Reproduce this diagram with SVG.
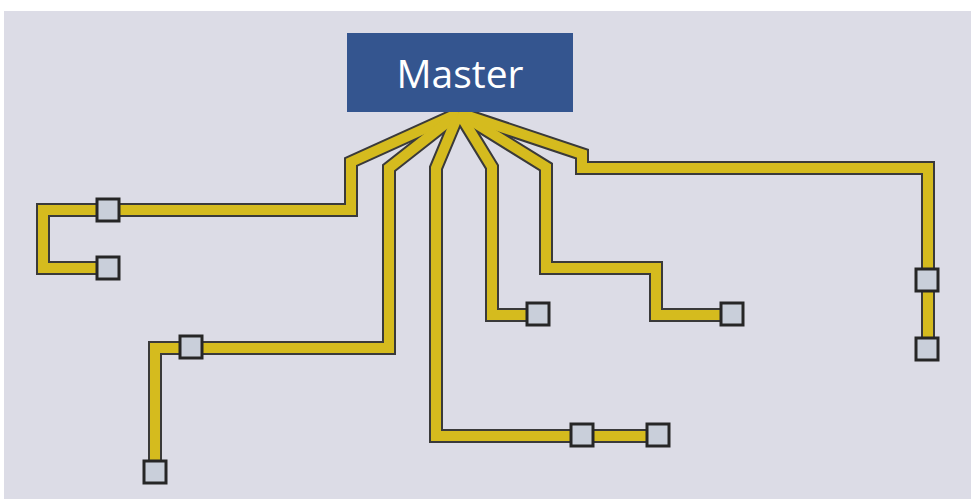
<svg xmlns="http://www.w3.org/2000/svg" width="971" height="499" viewBox="0 0 971 499">
<style>
.bg{fill:#dcdce6}
.out{fill:none;stroke:#3a3a3a;stroke-width:14;stroke-linejoin:miter;stroke-linecap:butt}
.in{fill:none;stroke:#d5bb1e;stroke-width:10;stroke-linejoin:miter;stroke-linecap:butt}
.sq{fill:#c9cfda;stroke:#262626;stroke-width:3}
.lbl{font-family:"Open Sans","Noto Sans",sans-serif;font-size:39px;fill:#ffffff;text-anchor:middle}
</style>
<defs>
<path id="t1" d="M459,113 L351,162 L351,210 L43,210 L43,268 L108,268"/>
<path id="t2" d="M459,113 L389,168 L389,348 L155,348 L155,471"/>
<path id="t3" d="M459,113 L436,168 L436,436 L658,436"/>
<path id="t4" d="M459,113 L492,167 L492,315 L538,315"/>
<path id="t5" d="M459,113 L546,167 L546,268 L656,268 L656,315 L732,315"/>
<path id="t6" d="M459,113 L582,154 L582,168 L928,168 L928,349"/>
</defs>
<rect x="0" y="0" width="971" height="499" fill="#ffffff"/>
<rect class="bg" x="4" y="11" width="967" height="488"/>
<g id="connectors">
<use href="#t1" class="out"/><use href="#t2" class="out"/><use href="#t3" class="out"/>
<use href="#t4" class="out"/><use href="#t5" class="out"/><use href="#t6" class="out"/>
<use href="#t1" class="in"/><use href="#t2" class="in"/><use href="#t3" class="in"/>
<use href="#t4" class="in"/><use href="#t5" class="in"/><use href="#t6" class="in"/>
</g>
<g id="master">
<rect x="347" y="33" width="226" height="79" fill="#34558f"/>
<text class="lbl" x="460" y="88">Master</text>
</g>
<g id="n1"><rect class="sq" x="97" y="199" width="22" height="22"/></g>
<g id="n2"><rect class="sq" x="97" y="257" width="22" height="22"/></g>
<g id="n3"><rect class="sq" x="180" y="336" width="22" height="22"/></g>
<g id="n4"><rect class="sq" x="144" y="461" width="22" height="22"/></g>
<g id="n5"><rect class="sq" x="571" y="424" width="22" height="22"/></g>
<g id="n6"><rect class="sq" x="647" y="424" width="22" height="22"/></g>
<g id="n7"><rect class="sq" x="527" y="303" width="22" height="22"/></g>
<g id="n8"><rect class="sq" x="721" y="303" width="22" height="22"/></g>
<g id="n9"><rect class="sq" x="916" y="269" width="22" height="22"/></g>
<g id="n10"><rect class="sq" x="916" y="338" width="22" height="22"/></g>
</svg>
